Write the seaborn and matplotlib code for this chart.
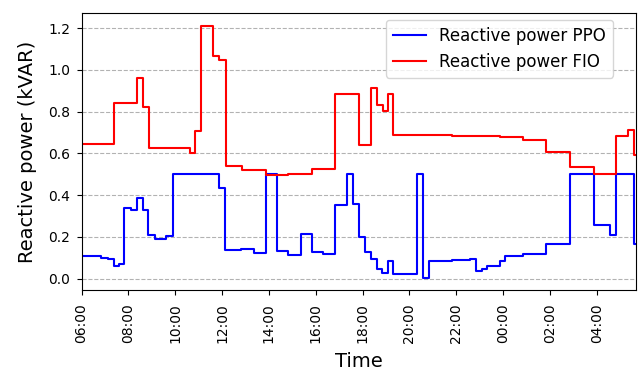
import pandas as pd
import numpy as np
import seaborn as sns
import matplotlib.pyplot as plt
import matplotlib.dates as mdates

# step start times (HH:MM, run goes past midnight) and values in kVAR
ppo_times = ['06:00', '06:51', '07:07', '07:22', '07:37', '07:50', '08:07', '08:21', '08:37', '08:51',
             '09:07', '09:37', '09:54', '11:53', '12:08', '12:49', '13:23', '13:53', '14:20', '14:49',
             '15:21', '15:51', '16:19', '16:50', '17:21', '17:36', '17:51', '18:06', '18:21', '18:37',
             '18:51', '19:05', '19:18', '20:20', '20:35', '20:51', '21:48', '22:35', '22:50', '23:05',
             '23:20', '23:51', '00:05', '00:51', '01:51', '02:51', '03:52', '04:33', '04:49', '05:35',
             '05:41']
ppo_values = [0.106, 0.100, 0.093, 0.061, 0.072, 0.337, 0.329, 0.388, 0.329, 0.209,
              0.192, 0.205, 0.502, 0.433, 0.137, 0.144, 0.125, 0.502, 0.132, 0.112,
              0.212, 0.128, 0.120, 0.353, 0.502, 0.356, 0.201, 0.128, 0.093, 0.045,
              0.029, 0.085, 0.021, 0.502, 0.005, 0.084, 0.088, 0.094, 0.035, 0.048,
              0.060, 0.084, 0.106, 0.117, 0.165, 0.502, 0.257, 0.209, 0.502, 0.165,
              0.165]

fio_times = ['06:00', '07:24', '08:22', '08:37', '08:52', '10:37', '10:51', '11:07', '11:36', '11:51',
             '12:11', '12:51', '13:52', '14:49', '15:51', '16:50', '17:51', '18:22', '18:36', '18:53',
             '19:05', '19:19', '21:50', '23:51', '00:51', '01:51', '02:51', '03:52', '04:49', '05:20',
             '05:35', '05:41']
fio_values = [0.645, 0.840, 0.960, 0.823, 0.628, 0.603, 0.709, 1.211, 1.066, 1.047,
              0.542, 0.520, 0.495, 0.503, 0.527, 0.886, 0.642, 0.914, 0.834, 0.805,
              0.885, 0.690, 0.685, 0.678, 0.664, 0.605, 0.537, 0.502, 0.685, 0.710,
              0.592, 0.592]


def to_datetimes(times):
    out = []
    day = 0
    prev = None
    for t in times:
        ts = pd.Timestamp('2023-01-01 ' + t) + pd.Timedelta(days=day)
        if prev is not None and ts < prev:
            day += 1
            ts = ts + pd.Timedelta(days=1)
        out.append(ts)
        prev = ts
    return out


ppo = pd.DataFrame({'time': to_datetimes(ppo_times), 'power': ppo_values})
fio = pd.DataFrame({'time': to_datetimes(fio_times), 'power': fio_values})

fig, ax = plt.subplots(figsize=(6.42, 3.71), dpi=100)
fig.subplots_adjust(left=0.127, right=0.991, top=0.964, bottom=0.218)

sns.lineplot(x='time', y='power', data=ppo, ax=ax, color='blue', drawstyle='steps-post',
             label='Reactive power PPO')
sns.lineplot(x='time', y='power', data=fio, ax=ax, color='red', drawstyle='steps-post',
             label='Reactive power FIO')

ax.set_xlim(ppo['time'].min(), ppo['time'].max())
ax.xaxis.set_major_locator(mdates.HourLocator(byhour=range(0, 24, 2)))
ax.xaxis.set_major_formatter(mdates.DateFormatter('%H:%M'))
plt.setp(ax.get_xticklabels(), rotation=90)
ax.tick_params(axis='x', pad=6)
ax.tick_params(axis='y', pad=4.5)
ax.yaxis.grid(True, linestyle='--', color='gray', alpha=0.6)
ax.set_yticks([0.0, 0.2, 0.4, 0.6, 0.8, 1.0, 1.2])
ax.set_xlabel('Time', fontsize=14, labelpad=6)
ax.set_ylabel('Reactive power (kVAR)', fontsize=14, labelpad=8)
ax.legend(loc='upper right', bbox_to_anchor=(0.97, 1.0), fontsize=12, borderaxespad=0.4)

plt.savefig('out.png')
plt.close()
